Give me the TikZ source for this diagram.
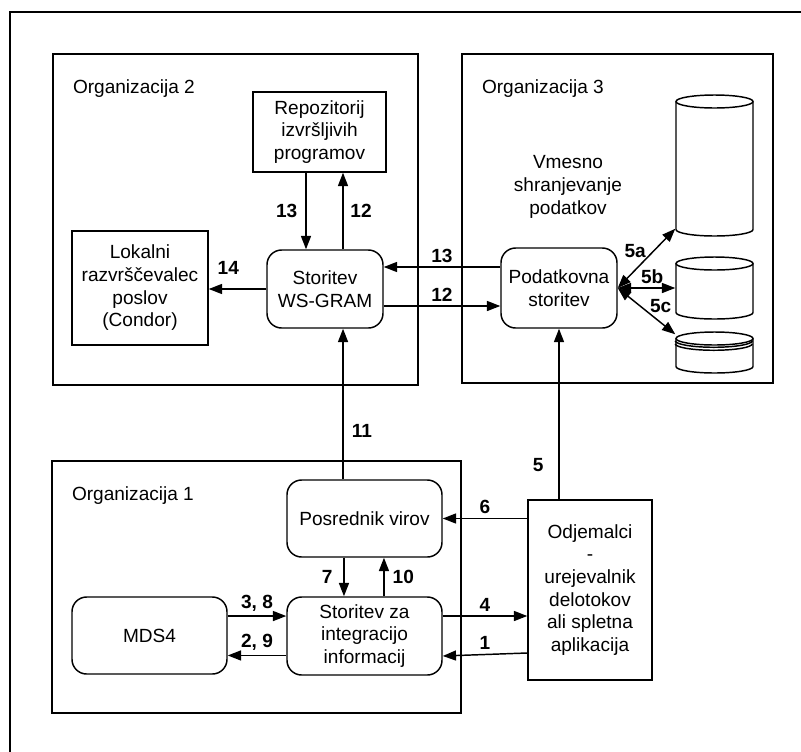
\documentclass[tikz,border=0pt]{standalone}
\usepackage{fontspec}
\setmainfont{Liberation Sans}
\usetikzlibrary{arrows.meta,positioning}
\newcommand{\dbcyl}[4]{%
	\node[dbnode,minimum height={(#4-#3)*0.75pt}] (#1) at (#2,{(#3+#4)/2}) {};
	\draw[fill=white] (#2-38.5,#3+6.5) -- (#2-38.5,#4-6.5)
		arc[start angle=180,end angle=360,x radius=28.875pt,y radius=4.875pt]
		-- (#2+38.5,#3+6.5);
	\draw[fill=white] (#2,#3+6.5) ellipse[x radius=28.875pt,y radius=4.875pt];}
\begin{document}
\begin{tikzpicture}[x=0.75pt,y=-0.75pt,line width=1.1pt,
	every node/.style={font=\fontsize{14.3pt}{17pt}\selectfont,align=center},
	boxsize/.style 2 args={minimum width=#1*0.75pt,minimum height=#2*0.75pt},
	orgbox/.style={draw},
	orglbl/.style={anchor=west,inner sep=0pt},
	plainbox/.style={draw,inner sep=1pt},
	roundbox/.style={draw,rounded corners=11pt,inner sep=1pt},
	dbnode/.style={minimum width=57.75pt,inner sep=0pt},
	lbl/.style={font=\bfseries\fontsize{14.3pt}{17pt}\selectfont,inner sep=0pt},
	arr/.style={-{Triangle[length=10pt,width=7.5pt]}},
	darr/.style={{Triangle[length=10pt,width=7.5pt]}-{Triangle[length=10pt,width=7.5pt]}}]
\useasboundingbox (0,0) rectangle (801,751);
\draw[line width=1.7pt] (10,12) rectangle (830,780);
\node[orgbox,boxsize={365}{331}] (org2) at (235.5,219.5) {};
\node[orgbox,boxsize={311}{329}] (org3) at (617.5,218.5) {};
\node[orgbox,boxsize={409}{252}] (org1) at (256.5,587) {};
\node[orglbl] (org2lbl) at ([shift={(20,35)}]org2.north west) {Organizacija 2};
\node[orglbl] (org3lbl) at ([shift={(20,35)}]org3.north west) {Organizacija 3};
\node[orglbl] (org1lbl) at ([shift={(20,35)}]org1.north west) {Organizacija 1};
\node[plainbox,boxsize={133}{80}] (repo) at (319.5,132) {Repozitorij\\izvršljivih\\programov};
\node[plainbox,boxsize={136}{114}] (lokalni) at (140,288) {Lokalni\\razvrščevalec\\poslov\\(Condor)};
\node[roundbox,boxsize={116}{78}] (wsgram) at (325,289) {Storitev\\WS-GRAM};
\node[roundbox,boxsize={116}{80}] (podatki) at (559,288) {Podatkovna\\storitev};
\node (vmesno) at (568,187) {Vmesno\\shranjevanje\\podatkov};
\dbcyl{cyl1}{714.5}{95}{236}
\dbcyl{cyl2}{714.5}{257}{319}
\dbcyl{cyl3}{714.5}{332}{373}
\draw ([shift={(0,9.5)}]cyl3.north west) arc[start angle=180,end angle=360,x radius=28.875pt,y radius=4.875pt];
\draw ([shift={(0,12.5)}]cyl3.north west) arc[start angle=180,end angle=360,x radius=28.875pt,y radius=4.875pt];
\node[roundbox,boxsize={155}{77}] (posrednik) at (364.5,518.5) {Posrednik virov};
\node[roundbox,boxsize={155}{78}] (integ) at (364.5,636) {Storitev za\\integracijo\\informacij};
\node[roundbox,boxsize={155}{77}] (mds) at (149.5,635.5) {MDS4};
\node[plainbox,boxsize={124}{180}] (client) at (590,590) {Odjemalci\\-\\urejevalnik\\delotokov\\ali spletna\\aplikacija};
\coordinate (a13) at ([xshift=-14.25pt]wsgram.north);
\coordinate (a12) at ([xshift=13.5pt]wsgram.north);
\coordinate (h13) at ([yshift=15.75pt]podatki.west);
\coordinate (h12) at ([yshift=-12.75pt]wsgram.east);
\coordinate (a11) at ([xshift=-16.1pt]posrednik.north);
\coordinate (a7) at ([xshift=-15.4pt]posrednik.south);
\coordinate (a10) at ([xshift=14.6pt]integ.north);
\coordinate (a38) at ([yshift=14.6pt]mds.east);
\coordinate (a29) at ([yshift=-14.6pt]integ.west);
\coordinate (a4) at ([yshift=15pt]integ.east);
\coordinate (hub) at (podatki.east);
\draw[arr] (a13 |- repo.south) -- node[lbl,left=6pt] {13} (a13);
\draw[arr] (a12) -- node[lbl,right=5pt] {12} (a12 |- repo.south);
\draw[arr] (wsgram.west) -- node[lbl,above=10pt,pos=0.66] {14} (wsgram.west -| lokalni.east);
\draw[arr] (h13) -- node[lbl,above=3pt] {13} (h13 -| wsgram.east);
\draw[arr] (h12) -- node[lbl,above=3pt] {12} (h12 -| podatki.west);
\draw[darr] (hub) -- node[lbl,above left] {5a} ([yshift=6pt]cyl1.south west);
\draw[darr] (hub) -- node[lbl,above=3pt,pos=0.6] {5b} (cyl2.west);
\draw[darr] (hub) -- node[lbl,above right,pos=0.55] {5c} ([yshift=-2.25pt]cyl3.north west);
\draw[arr] (a11) -- node[lbl,right=6pt,pos=0.32] {11} (a11 |- wsgram.south);
\draw[arr] (client.north -| podatki.south) -- node[lbl,left=11pt,pos=0.2] {5} (podatki.south);
\draw[arr] (client.west |- posrednik.east) -- node[lbl,above=3pt] {6} (posrednik.east);
\draw[arr] (a7) -- node[lbl,left=8pt] {7} (a7 |- integ.north);
\draw[arr] (a10) -- node[lbl,right=6pt] {10} (a10 |- posrednik.south);
\draw[arr] (a38) -- node[lbl,above=3pt] {3, 8} (a38 -| integ.west);
\draw[arr] (a29) -- node[lbl,above=3pt] {2, 9} (a29 -| mds.east);
\draw[arr] (a4) -- node[lbl,above=3pt] {4} (a4 -| client.west);
\draw[arr] ([yshift=-47.25pt]client.west) -- node[lbl,above=3pt] {1} ([yshift=-15pt]integ.east);
\end{tikzpicture}
\end{document}
